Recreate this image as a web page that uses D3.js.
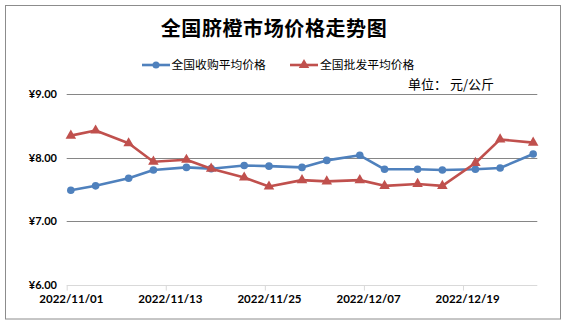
<!DOCTYPE html>
<html>
<head>
<meta charset="utf-8">
<script src="https://cdn.jsdelivr.net/npm/d3@7"></script>
<style>
  html, body { margin: 0; padding: 0; background: #fff; }
  svg { display: block; }
</style>
</head>
<body>
<svg id="chart" width="567" height="324"></svg>
<script>
// Sampling dates (Tuesdays and Fridays)
const dates = ["2022/11/01","2022/11/04","2022/11/08","2022/11/11","2022/11/15","2022/11/18",
  "2022/11/22","2022/11/25","2022/11/29","2022/12/02","2022/12/06","2022/12/09",
  "2022/12/13","2022/12/16","2022/12/20","2022/12/23","2022/12/27"];
// Average purchase price (yuan/kg)
const purchase = [7.49,7.56,7.68,7.81,7.85,7.83,7.88,7.87,7.85,7.96,8.04,7.82,7.82,7.81,7.82,7.84,8.06];
// Average wholesale price (yuan/kg)
const wholesale = [8.35,8.43,8.23,7.94,7.97,7.83,7.69,7.55,7.65,7.63,7.65,7.56,7.59,7.56,7.92,8.29,8.24];
const seriesNames = ["全国收购平均价格", "全国批发平均价格"];
const xTickLabels = ["2022/11/01","2022/11/13","2022/11/25","2022/12/07","2022/12/19"];
const yTicks = [6, 7, 8, 9];
const titleText = "全国脐橙市场价格走势图";
const unitText = "单位： 元/公斤";

const parse = d3.timeParse("%Y/%m/%d");
const day = 864e5;
const svg = d3.select("#chart");
const cjk = "'Noto Sans CJK SC', 'Noto Sans', sans-serif";
const latin = "Lato, 'Open Sans', sans-serif";
const colors = ["#4f81bd", "#c0504d"];

// outer frame
svg.append("rect").attr("x", 5.5).attr("y", 5.5).attr("width", 555).attr("height", 313.5)
  .attr("fill", "#fff").attr("stroke", "#8c8c8c").attr("stroke-width", 1);

const plot = { left: 66.7, right: 537.3, top: 94.3, bottom: 285 };
const firstDay = parse(dates[0]);
const lastDay = d3.timeDay.offset(parse(dates[dates.length - 1]), 1);
const x = d3.scaleTime().domain([firstDay, lastDay]).range([plot.left, plot.right]);
const y = d3.scaleLinear().domain([6, 9]).range([plot.bottom, plot.top]);
const halfDay = x(new Date(+firstDay + day / 2)) - x(firstDay);

// title
svg.append("text").attr("x", 274).attr("y", 36).attr("text-anchor", "middle")
  .attr("font-family", cjk).attr("font-weight", "bold").attr("font-size", 20)
  .attr("letter-spacing", 0.6).attr("fill", "#000").text(titleText);

// gridlines
svg.append("g").selectAll("line").data(yTicks.filter(v => v > 6)).join("line")
  .attr("x1", plot.left).attr("x2", plot.right)
  .attr("y1", d => Math.round(y(d)) + 0.5).attr("y2", d => Math.round(y(d)) + 0.5)
  .attr("stroke", "#868686").attr("stroke-width", 1);

// y labels
svg.append("g").selectAll("text").data(yTicks).join("text")
  .attr("x", 57).attr("y", d => y(d)).attr("dy", "0.35em").attr("text-anchor", "end")
  .attr("font-family", latin).attr("font-weight", "bold").attr("font-size", 11)
  .attr("fill", "#000").text(d => "¥" + d3.format(".2f")(d));

// x axis
const xAxis = d3.axisBottom(x).tickValues(xTickLabels.map(parse)).tickSize(5)
  .tickFormat(d3.timeFormat("%Y/%m/%d"));
const gx = svg.append("g").attr("transform", `translate(0,${Math.round(plot.bottom) + 0.5})`).call(xAxis);
gx.select(".domain").attr("stroke", "#d9d9d9").attr("d", `M${plot.left},0H${plot.right}`);
gx.selectAll(".tick line").attr("stroke", "#d9d9d9");
gx.selectAll(".tick text").attr("x", halfDay).attr("y", 9)
  .attr("font-family", latin).attr("font-weight", "bold").attr("font-size", 11.5).attr("fill", "#000");

// series
const mid = d => new Date(+parse(d) + day / 2);
const line = d3.line().x(d => x(mid(d.date))).y(d => y(d.v));
const series = [purchase, wholesale].map(vals => vals.map((v, j) => ({ date: dates[j], v })));
const tri = d3.symbol().type(d3.symbolTriangle).size(48);

series.forEach((pts, i) => {
  svg.append("path").datum(pts).attr("d", line).attr("fill", "none")
    .attr("stroke", colors[i]).attr("stroke-width", 2.6).attr("stroke-linejoin", "round");
  const g = svg.append("g");
  if (i === 0) {
    g.selectAll("circle").data(pts).join("circle")
      .attr("cx", d => x(mid(d.date))).attr("cy", d => y(d.v)).attr("r", 3.8).attr("fill", colors[i]);
  } else {
    g.selectAll("path").data(pts).join("path")
      .attr("transform", d => `translate(${x(mid(d.date))},${y(d.v)})`).attr("d", tri).attr("fill", colors[i]);
  }
});

// legend
const legendItems = [{ x: 142, tx: 171.5 }, { x: 290, tx: 320 }];
legendItems.forEach((it, i) => {
  const ly = 65;
  svg.append("line").attr("x1", it.x).attr("x2", it.x + 28).attr("y1", ly).attr("y2", ly)
    .attr("stroke", colors[i]).attr("stroke-width", 2.6);
  if (i === 0) {
    svg.append("circle").attr("cx", it.x + 14).attr("cy", ly).attr("r", 3.5).attr("fill", colors[i]);
  } else {
    svg.append("path").attr("transform", `translate(${it.x + 14},${ly})`).attr("d", tri).attr("fill", colors[i]);
  }
  svg.append("text").attr("x", it.tx).attr("y", ly).attr("dy", "0.36em")
    .attr("font-family", cjk).attr("font-size", 11.8).attr("fill", "#000").text(seriesNames[i]);
});

// unit note
svg.append("text").attr("x", 408).attr("y", 89).attr("font-family", cjk).attr("font-size", 13)
  .attr("fill", "#000").text(unitText);
</script>
</body>
</html>
